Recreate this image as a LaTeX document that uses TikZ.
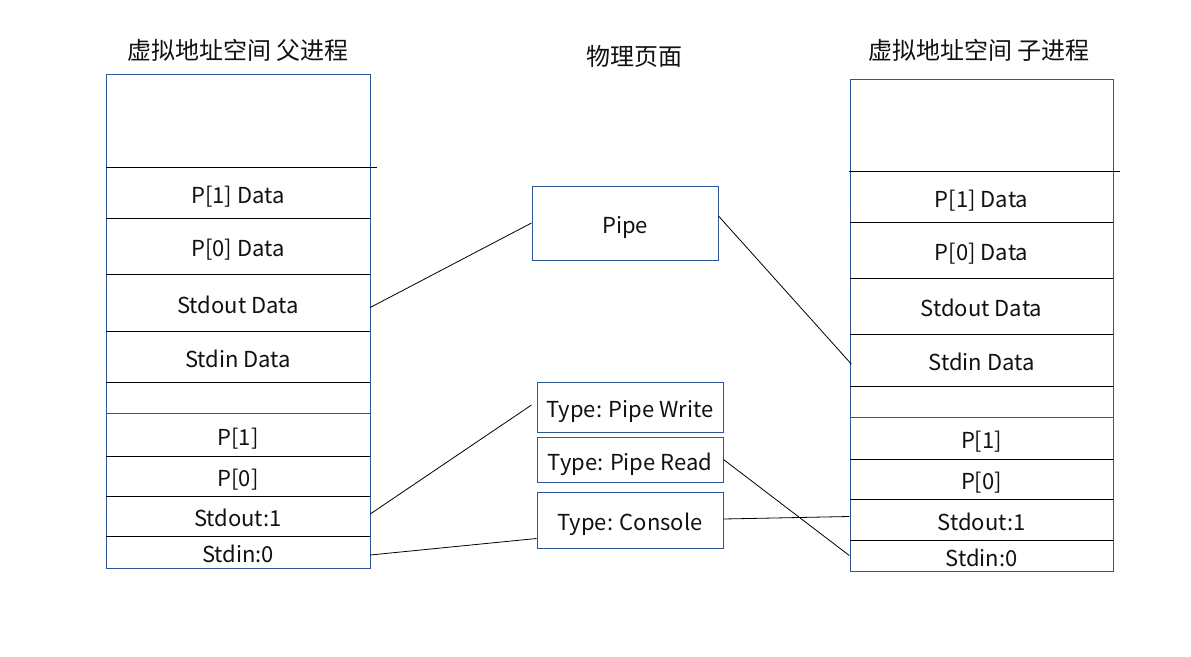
\documentclass[tikz,border=0pt]{standalone}
\usepackage{fontspec}
\setmainfont{Noto Sans CJK SC}
\definecolor{boxblue}{HTML}{2F5597}
\definecolor{txt}{HTML}{111111}
\begin{document}
\begin{tikzpicture}[x=1pt,y=-1pt,
  cell/.style={inner sep=0pt, minimum width=264pt, text=txt, text height=21pt, text depth=0pt, font=\fontsize{22}{26}\selectfont},
  mbox/.style={draw=boxblue, line width=1pt, inner sep=0pt, minimum width=186pt, text=txt, text height=21pt, text depth=0pt, font=\fontsize{22}{26}\selectfont},
  title/.style={inner sep=0pt, text=txt, font=\fontsize{24}{28}\selectfont},
  frame/.style={draw=boxblue, line width=1pt},
  divider/.style={draw=black, line width=1pt},
  conn/.style={draw=black, line width=0.8pt}]
\useasboundingbox (0,0) rectangle (1191,656);

% titles
\node[title] (tL) at (238,50) {虚拟地址空间 父进程};
\node[title] (tM) at (634,56) {物理页面};
\node[title] (tR) at (979,50) {虚拟地址空间 子进程};

% left column
\draw[frame] (106,74) rectangle (370,568);
\draw[divider] (106,167) -- (377,167);
\foreach \y in {218,274,331,382,456,496,536} \draw[divider] (106,\y) -- (370,\y);
\draw[frame] (106,413) -- (370,413);
\node[cell] (Lp1d) at (238,192.5) {P[1] Data};
\node[cell] (Lp0d) at (238,246) {P[0] Data};
\node[cell] (Lsd)  at (238,302.5) {Stdout Data};
\node[cell] (Lsid) at (238,356.5) {Stdin Data};
\node[cell] (Lp1)  at (238,434.5) {P[1]};
\node[cell] (Lp0)  at (238,476) {P[0]};
\node[cell] (Lso)  at (238,516) {Stdout:1};
\node[cell] (Lsn)  at (238,552) {Stdin:0};

% right column
\draw[frame] (850,79) rectangle (1113,571);
\draw[divider] (849,171) -- (1120,171);
\foreach \y in {222,278,334,386,459,499,540} \draw[divider] (850,\y) -- (1113,\y);
\draw[frame] (850,417) -- (1113,417);
\node[cell] (Rp1d) at (981.5,196.5) {P[1] Data};
\node[cell] (Rp0d) at (981.5,250) {P[0] Data};
\node[cell] (Rsd)  at (981.5,306) {Stdout Data};
\node[cell] (Rsid) at (981.5,360) {Stdin Data};
\node[cell] (Rp1)  at (981.5,438) {P[1]};
\node[cell] (Rp0)  at (981.5,479) {P[0]};
\node[cell] (Rso)  at (981.5,519.5) {Stdout:1};
\node[cell] (Rsn)  at (981.5,555.5) {Stdin:0};

% middle boxes
\node[mbox, minimum height=74pt] (pipe) at (625,223) {Pipe};
\node[mbox, minimum height=50pt] (pw) at (630,407) {Type: Pipe Write};
\node[mbox, minimum height=45pt] (pr) at (630,459.5) {Type: Pipe Read};
\node[mbox, minimum height=56pt] (con) at (630,520) {Type: Console};

% connectors
\draw[conn] ([yshift=-5pt]Lsd.east) -- (pipe.west);
\draw[conn] ([yshift=7pt]pipe.east) -- ([xshift=2pt,yshift=-4pt]Rsid.west);
\draw[conn] ([yshift=2pt]Lso.east) -- ([xshift=-5pt,yshift=2pt]pw.west);
\draw[conn] (pr.east) -- (Rsn.west);
\draw[conn] ([yshift=1pt]con.east) -- ([yshift=3pt]Rso.west);
\draw[conn] ([yshift=-3pt]Lsn.east) -- ([yshift=10pt]con.south west);
\end{tikzpicture}
\end{document}
